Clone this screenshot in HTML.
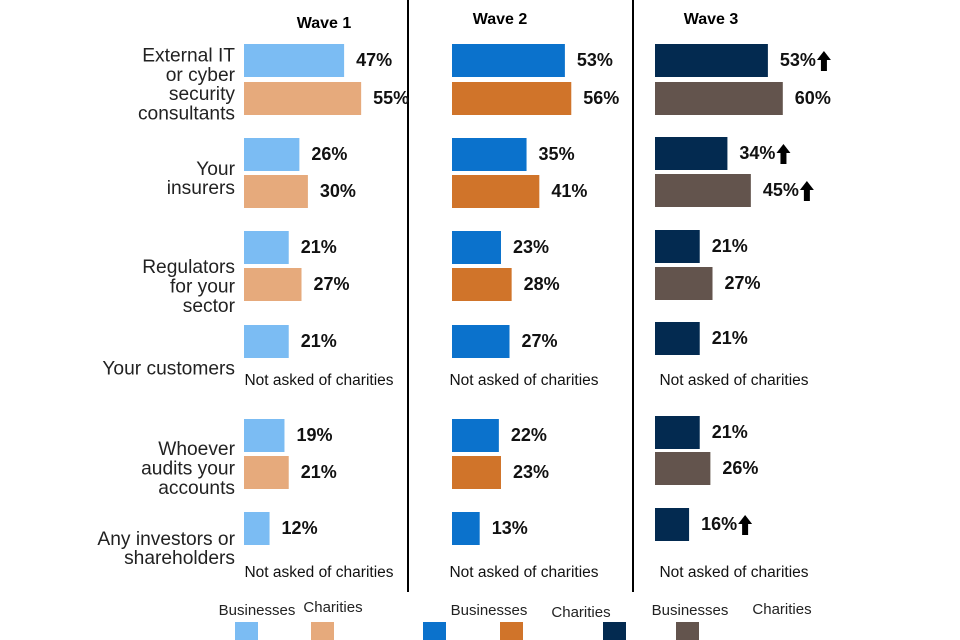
<!DOCTYPE html>
<html><head><meta charset="utf-8"><style>
html,body{margin:0;padding:0;background:#fff;}
svg{display:block;font-family:"Liberation Sans",Arial,sans-serif;}
</style></head><body>
<svg id="chart" width="960" height="640" viewBox="0 0 960 640"></svg>
<script>
const categories = ["External IT or cyber security consultants","Your insurers","Regulators for your sector","Your customers","Whoever audits your accounts","Any investors or shareholders"];
const waves = ["Wave 1","Wave 2","Wave 3"];
const businessW1 = [47,26,21,21,19,12];
const charityW1 = [55,30,27,null,21,null];
const businessW2 = [53,35,23,27,22,13];
const charityW2 = [56,41,28,null,23,null];
const businessW3 = [53,34,21,21,21,16];
const charityW3 = [60,45,27,null,26,null];
const businessArrowW3 = [true,true,false,false,false,true];
const charityArrowW3 = [false,true,false,false,false,false];

const NS="http://www.w3.org/2000/svg";
const svg=document.getElementById('chart');
function mk(tag,attrs,parent){const e=document.createElementNS(NS,tag);for(const k in attrs)e.setAttribute(k,attrs[k]);(parent||svg).appendChild(e);return e;}
const scale=2.13;
function xw(v){return v*scale;}
const panels=[
 {x0:244,biz:businessW1,chr:charityW1,cb:"#7bbcf3",cc:"#e6aa7c",title:324,ty:28,rowsB:[44,138,231,325,419,512],rowsC:[82,175,268,null,456,null],na:[380,572],nax:319},
 {x0:452,biz:businessW2,chr:charityW2,cb:"#0b72cc",cc:"#d0742a",title:500,ty:24,rowsB:[44,138,231,325,419,512],rowsC:[82,175,268,null,456,null],na:[380,572],nax:524},
 {x0:655,biz:businessW3,chr:charityW3,cb:"#032a50",cc:"#63544d",title:711,ty:24,rowsB:[44,137,230,322,416,508],rowsC:[82,174,267,null,452,null],na:[380,572],nax:734,arrB:businessArrowW3,arrC:charityArrowW3}
];
[408,633].forEach((x,i)=>{const l=mk('line',{x1:x,y1:0,x2:x,y2:592,stroke:'#000','stroke-width':2});

});
const catLines=[["External IT","or cyber","security","consultants"],["Your","insurers"],["Regulators","for your","sector"],["Your customers"],["Whoever","audits your","accounts"],["Any investors or","shareholders"]];
const catCenters=[84,178,286,368,468,548];
catLines.forEach((lines,i)=>{
 const t=mk('text',{x:235,'text-anchor':'end','font-size':19.2,fill:'#222'});
 
 
 const start=catCenters[i]-(lines.length-1)*19.3/2;
 lines.forEach((ln,j)=>{const s=mk('tspan',{x:235,y:start+j*19.3+6.5},t);s.textContent=ln;});
});
function arrow(x,y){const p=mk('path',{d:`M${x+7} ${y-10} L${x+14} ${y-1} L${x+10} ${y-1} L${x+10} ${y+10} L${x+4} ${y+10} L${x+4} ${y-1} L${x} ${y-1} Z`,fill:'#000'});

}
panels.forEach((p,w)=>{
 const tt=mk('text',{x:p.title,y:p.ty,'text-anchor':'middle','font-size':16,'font-weight':'bold',fill:'#000'});tt.textContent=waves[w];
 
 
 const draw=(vals,rows,color,kind,arr)=>{
  vals.forEach((v,i)=>{
   if(v==null)return;
   const y=rows[i];
   const r=mk('rect',{x:p.x0,y:y,width:xw(v),height:33,fill:color});
   
   
   const lx=p.x0+xw(v)+12;
   const t=mk('text',{x:lx,y:y+22,'font-size':18,'font-weight':'bold',fill:'#111'});t.textContent=v+'%';
   
   
   if(arr&&arr[i]){arrow(lx+t.getComputedTextLength()+1,y+17);}
  });
 };
 draw(p.biz,p.rowsB,p.cb,'business',p.arrB);
 draw(p.chr,p.rowsC,p.cc,'charity',p.arrC);
 p.na.forEach(y=>{const t=mk('text',{x:p.nax,y:y+5,'text-anchor':'middle','font-size':15.5,fill:'#111'});t.textContent='Not asked of charities';
 
 });
});
const legend=[
 ["Businesses",257,615,235,"#7bbcf3"],["Charities",333,612,311,"#e6aa7c"],
 ["Businesses",489,615,423,"#0b72cc"],["Charities",581,617,500,"#d0742a"],
 ["Businesses",690,615,603,"#032a50"],["Charities",782,614,676,"#63544d"]];
legend.forEach((l,i)=>{
 const t=mk('text',{x:l[1],y:l[2],'text-anchor':'middle','font-size':15,fill:'#222'});t.textContent=l[0];
 
 
 const r=mk('rect',{x:l[3],y:622,width:23,height:18,fill:l[4]});
 
 
});
</script>
</body></html>
